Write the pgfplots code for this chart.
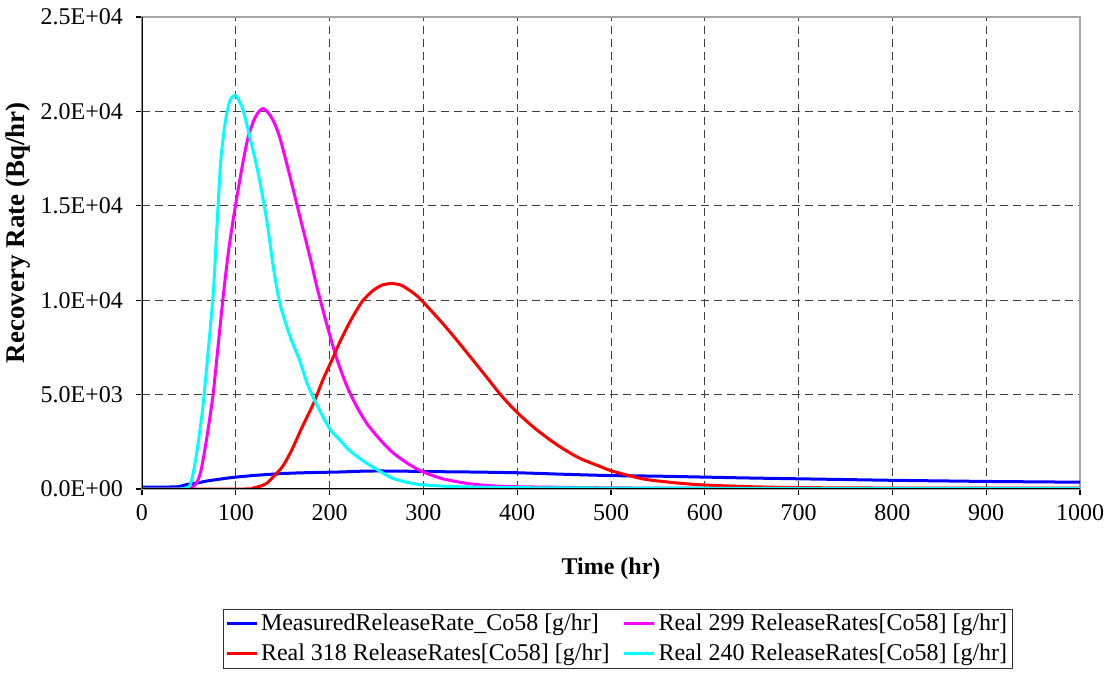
\documentclass[border=0pt]{standalone}
\usepackage{fontspec}
\setmainfont{Liberation Serif}
\usepackage{pgfplots}
\pgfplotsset{compat=1.18}
\definecolor{cBlue}{RGB}{0,0,255}
\definecolor{cMag}{RGB}{255,0,255}
\definecolor{cRed}{RGB}{255,0,0}
\definecolor{cCyan}{RGB}{0,255,255}
\begin{document}
\begin{tikzpicture}
\useasboundingbox (-71pt,-92pt) rectangle (485pt,244.5pt);
\begin{axis}[
  at={(0,0)}, anchor=south west,
  scale only axis, width=469pt, height=236pt,
  xmin=0, xmax=1000, ymin=0, ymax=25000,
  xtick={0,100,200,300,400,500,600,700,800,900,1000},
  xticklabels={0,100,200,300,400,500,600,700,800,900,1000},
  ytick={0,5000,10000,15000,20000,25000},
  yticklabels={0.0E+00,5.0E+03,1.0E+04,1.5E+04,2.0E+04,2.5E+04},
  scaled y ticks=false,
  tick align=outside, xtick pos=bottom, ytick pos=left,
  major tick length=3pt,
  tick style={black, line width=0.6pt},
  grid=major,
  major grid style={black!75, dash pattern=on 4pt off 2.5pt, line width=0.5pt},
  axis line style={gray!70, line width=0.6pt},
  ticklabel style={font=\fontsize{12}{14}\selectfont},
  yticklabel style={xshift=-3pt},
  xticklabel style={yshift=-1pt},
  xlabel={Time (hr)}, ylabel={Recovery Rate (Bq/hr)},
  x label style={font=\bfseries\fontsize{12}{14}\selectfont, at={(axis description cs:0.5,-0.168)}, anchor=center},
  y label style={font=\bfseries\fontsize{13.5}{15}\selectfont, at={(axis description cs:-0.1322,0.543)}, anchor=center},
  legend columns=2,
  legend cell align=left,
  legend style={at={(axis description cs:0.507,-0.254)}, anchor=north, draw=black!80, line width=0.5pt,
    font=\fontsize{12}{14}\selectfont, /tikz/every even column/.append style={column sep=5pt},
    inner xsep=1pt, inner ysep=0.3pt, row sep=1.2pt,
    nodes={inner xsep=1.5pt}},
  legend image code/.code={\draw[#1, line width=1.5pt] (0pt,0pt) -- (15pt,0pt);},
  every axis plot/.append style={line width=1.5pt, line join=round, smooth, tension=0.45},
]
\addplot[cBlue] coordinates {
(0,100) (20,100) (38,120) (45,200) (50,260) (60,330) (70,430) (80,500) (90,570) (100,630)
(120,720) (150,820) (180,870) (210,900) (240,950) (270,950) (310,920) (350,900) (400,860)
(450,780) (500,710) (550,680) (600,630) (650,580) (700,540) (750,500) (800,460) (850,430)
(900,400) (950,380) (1000,360)};
\addlegendentry{MeasuredReleaseRate\_Co58 [g/hr]}
\addplot[cMag] coordinates {
(0,0) (48,0) (52,50) (58,300) (62,800) (65,1500) (70,3000) (76,5100) (82,8000) (87,10400)
(92,12500) (97,14200) (103,16000) (108,17400) (113,18600) (119,19500) (124,19950) (129,20150)
(135,19900) (141,19400) (147,18600) (155,17100) (165,15100) (175,13100) (180,12100) (186,10800)
(196,8900) (207,7000) (218,5500) (228,4450) (240,3450) (255,2550) (268,1900) (285,1300)
(300,900) (320,550) (346,300) (370,180) (400,120) (500,60) (600,40) (800,30) (1000,30)};
\addlegendentry{Real 299 ReleaseRates[Co58] [g/hr]}
\addplot[cRed] coordinates {
(0,0) (110,0) (118,50) (126,150) (133,300) (140,650) (150,1200) (160,2100) (170,3200)
(183,4550) (193,5800) (204,7000) (211,7800) (218,8500) (225,9150) (235,9950) (246,10500)
(256,10800) (266,10880) (276,10800) (286,10500) (296,10100) (310,9350) (320,8800) (332,8100)
(350,7000) (367,5950) (383,4950) (400,4050) (418,3250) (435,2600) (450,2100) (467,1620)
(488,1200) (500,970) (520,700) (538,500) (570,320) (600,210) (650,120) (700,75) (800,50) (1000,40)};
\addlegendentry{Real 318 ReleaseRates[Co58] [g/hr]}
\addplot[cCyan] coordinates {
(0,0) (40,0) (47,50) (52,300) (57,1500) (62,3200) (65,4400) (70,7000) (76,10400) (80,14000)
(84,17400) (89,19500) (94,20600) (100,20850) (105,20400) (108,20050) (115,18640) (124,16700)
(133,14230) (140,11760) (147,9825) (158,8060) (168,6825) (176,5600) (186,4500) (200,3200)
(211,2600) (220,2100) (230,1700) (240,1350) (255,900) (268,550) (285,330) (300,220) (330,130)
(370,90) (400,70) (500,50) (600,40) (800,30) (1000,30)};
\addlegendentry{Real 240 ReleaseRates[Co58] [g/hr]}
\draw[black, line width=0.7pt] (rel axis cs:0,1) -- (rel axis cs:0,0) -- (rel axis cs:1,0);
\end{axis}
\end{tikzpicture}
\end{document}
